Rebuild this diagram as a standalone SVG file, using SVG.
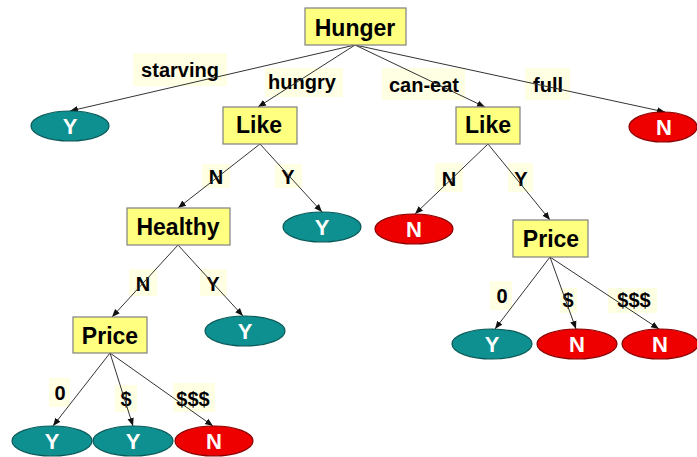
<svg xmlns="http://www.w3.org/2000/svg" width="697" height="457" viewBox="0 0 697 457">
<defs>
<style>
.box{fill:#FFFF80;stroke:#808080;stroke-width:1.2}
.lbg{fill:#FFFFE4;stroke:none}
.yes{fill:#0E9090;stroke:#0A5A5A;stroke-width:1.2}
.no{fill:#EE0000;stroke:#8A0000;stroke-width:1.2}
.nt{font-family:"Liberation Sans",Arial,sans-serif;font-weight:bold;font-size:23px;fill:#000;text-anchor:middle}
.lt{font-family:"Liberation Sans",Arial,sans-serif;font-weight:bold;font-size:20px;fill:#000;text-anchor:middle}
.et{font-family:"Liberation Sans",Arial,sans-serif;font-weight:bold;font-size:22px;fill:#fff;text-anchor:middle}
.edge{stroke:#333;stroke-width:1;fill:none;marker-end:url(#arr)}
</style>
<marker id="arr" viewBox="0 0 10 10" refX="10" refY="5" markerWidth="8" markerHeight="8" markerUnits="userSpaceOnUse" orient="auto">
<path d="M0,1 L10,5 L0,9 z" fill="#111"/>
</marker>
</defs>
<rect width="697" height="457" fill="#fff"/>

<g id="labels">
<rect class="lbg" x="133" y="53" width="94" height="33"/><text class="lt" x="180" y="77">starving</text>
<rect class="lbg" x="265" y="68" width="78" height="29"/><text class="lt" x="302" y="89">hungry</text>
<rect class="lbg" x="382" y="68" width="83" height="32"/><text class="lt" x="424" y="92">can-eat</text>
<rect class="lbg" x="525" y="68" width="45" height="32"/><text class="lt" x="548" y="92">full</text>
<rect class="lbg" x="202" y="164" width="28" height="24"/><text class="lt" x="216" y="184">N</text>
<rect class="lbg" x="275" y="164" width="27" height="24"/><text class="lt" x="288" y="184">Y</text>
<rect class="lbg" x="129" y="269" width="28" height="27"/><text class="lt" x="143" y="291">N</text>
<rect class="lbg" x="200" y="269" width="27" height="27"/><text class="lt" x="213" y="291">Y</text>
<rect class="lbg" x="49" y="378" width="21" height="29"/><text class="lt" x="60" y="400">0</text>
<rect class="lbg" x="115" y="385" width="22" height="27"/><text class="lt" x="126" y="406">$</text>
<rect class="lbg" x="173" y="383" width="42" height="29"/><text class="lt" x="193" y="406">$$$</text>
<rect class="lbg" x="435" y="163" width="28" height="29"/><text class="lt" x="449" y="186">N</text>
<rect class="lbg" x="508" y="163" width="25" height="29"/><text class="lt" x="521" y="186">Y</text>
<rect class="lbg" x="490" y="281" width="22" height="29"/><text class="lt" x="502" y="303">0</text>
<rect class="lbg" x="560" y="288" width="17" height="25"/><text class="lt" x="568" y="307">$</text>
<rect class="lbg" x="608" y="288" width="49" height="25"/><text class="lt" x="634" y="307">$$$</text>
</g>

<g id="connectors">
<line class="edge" x1="355" y1="45" x2="70" y2="111"/>
<line class="edge" x1="355" y1="45" x2="258" y2="107"/>
<line class="edge" x1="355" y1="45" x2="485" y2="107"/>
<line class="edge" x1="355" y1="45" x2="665" y2="112"/>
<line class="edge" x1="260" y1="144" x2="178" y2="208"/>
<line class="edge" x1="260" y1="144" x2="322" y2="212"/>
<line class="edge" x1="178" y1="245" x2="112" y2="317"/>
<line class="edge" x1="178" y1="245" x2="243" y2="316"/>
<line class="edge" x1="110" y1="353" x2="53" y2="426"/>
<line class="edge" x1="110" y1="353" x2="133" y2="426"/>
<line class="edge" x1="110" y1="353" x2="213" y2="426"/>
<line class="edge" x1="488" y1="144" x2="415" y2="214"/>
<line class="edge" x1="488" y1="144" x2="550" y2="220"/>
<line class="edge" x1="550" y1="257" x2="495" y2="329"/>
<line class="edge" x1="550" y1="257" x2="576" y2="329"/>
<line class="edge" x1="550" y1="257" x2="659" y2="329"/>
</g>

<g id="hunger"><rect class="box" x="305" y="8" width="101" height="37"/><text class="nt" x="355" y="36">Hunger</text></g>
<g id="like1"><rect class="box" x="223" y="107" width="74" height="37"/><text class="nt" x="259" y="133">Like</text></g>
<g id="like2"><rect class="box" x="456" y="107" width="64" height="37"/><text class="nt" x="488" y="133">Like</text></g>
<g id="healthy"><rect class="box" x="127" y="208" width="103" height="37"/><text class="nt" x="178" y="235">Healthy</text></g>
<g id="price1"><rect class="box" x="73" y="317" width="74" height="36"/><text class="nt" x="110" y="344">Price</text></g>
<g id="price2"><rect class="box" x="513" y="220" width="75" height="37"/><text class="nt" x="551" y="247">Price</text></g>

<g id="leaf-starving"><ellipse class="yes" cx="70" cy="126" rx="39" ry="15"/><text class="et" x="70" y="134">Y</text></g>
<g id="leaf-full"><ellipse class="no" cx="663" cy="127" rx="34" ry="15"/><text class="et" x="664" y="135">N</text></g>
<g id="leaf-like1-y"><ellipse class="yes" cx="322" cy="227" rx="39" ry="15"/><text class="et" x="322" y="235">Y</text></g>
<g id="leaf-healthy-y"><ellipse class="yes" cx="245" cy="331" rx="40" ry="15"/><text class="et" x="245" y="339">Y</text></g>
<g id="leaf-p1-0"><ellipse class="yes" cx="52" cy="441" rx="40" ry="15"/><text class="et" x="52" y="449">Y</text></g>
<g id="leaf-p1-1"><ellipse class="yes" cx="133" cy="441" rx="40" ry="15"/><text class="et" x="133" y="449">Y</text></g>
<g id="leaf-p1-3"><ellipse class="no" cx="214" cy="441" rx="39" ry="15"/><text class="et" x="214" y="449">N</text></g>
<g id="leaf-like2-n"><ellipse class="no" cx="414" cy="229" rx="39" ry="15"/><text class="et" x="414" y="237">N</text></g>
<g id="leaf-p2-0"><ellipse class="yes" cx="492" cy="344" rx="40" ry="15"/><text class="et" x="492" y="352">Y</text></g>
<g id="leaf-p2-1"><ellipse class="no" cx="577" cy="344" rx="40" ry="15"/><text class="et" x="577" y="352">N</text></g>
<g id="leaf-p2-3"><ellipse class="no" cx="660" cy="344" rx="38" ry="15"/><text class="et" x="660" y="352">N</text></g>
</svg>
